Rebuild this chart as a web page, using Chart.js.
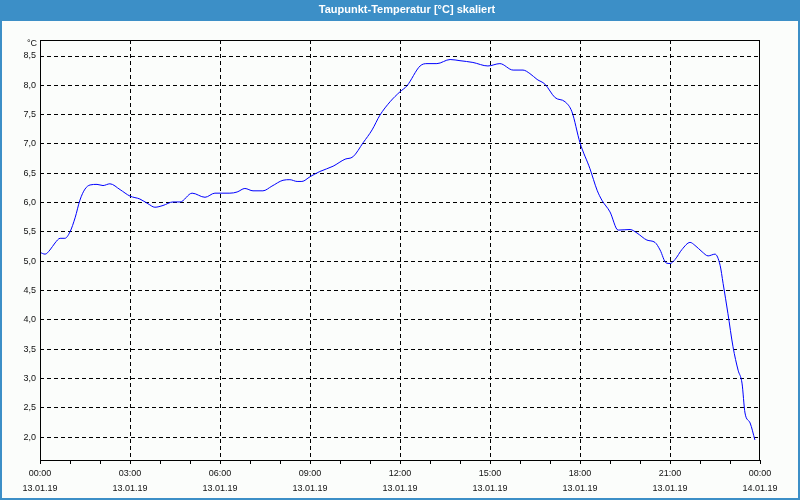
<!DOCTYPE html>
<html>
<head>
<meta charset="utf-8">
<script src="https://cdn.jsdelivr.net/npm/chart.js@4/dist/chart.umd.min.js"></script>
<style>
html,body{margin:0;padding:0;background:#fbfdfb;}
#wrap{width:800px;height:500px;position:relative;}
</style>
</head>
<body>
<div id="wrap"><canvas id="c" width="800" height="500"></canvas></div>
<script>
// ---- data ----
const chartTitle = 'Taupunkt-Temperatur [°C] skaliert';
const unitLabel = '°C';
const hours = [0,0.17,0.33,0.5,0.67,0.83,1.0,1.17,1.33,1.5,1.67,1.9,2.1,2.33,2.67,3.0,3.33,3.6,3.83,4.1,4.43,4.67,5.07,5.5,5.83,6.33,6.57,6.83,7.1,7.43,7.73,8.1,8.33,8.57,8.73,9.0,9.33,9.77,10.17,10.43,10.77,11.07,11.33,11.67,12.0,12.23,12.67,12.9,13.23,13.67,14.0,14.43,14.93,15.33,15.77,16.1,16.33,16.57,16.83,17.17,17.5,17.73,18.0,18.33,18.57,18.73,19.0,19.27,19.67,19.9,20.23,20.5,20.67,20.87,21.0,21.17,21.4,21.67,21.83,22.07,22.27,22.5,22.67,22.77,22.93,23.1,23.27,23.4,23.5,23.67,23.83];
const dewPoint = [5.15,5.12,5.19,5.31,5.39,5.39,5.50,5.74,6.04,6.23,6.30,6.31,6.29,6.32,6.22,6.11,6.06,5.98,5.92,5.95,6.01,6.01,6.16,6.09,6.16,6.16,6.18,6.24,6.20,6.20,6.28,6.38,6.39,6.36,6.36,6.44,6.53,6.62,6.74,6.78,7.02,7.24,7.49,7.72,7.89,7.99,8.33,8.37,8.37,8.44,8.42,8.39,8.33,8.37,8.26,8.26,8.20,8.10,8.02,7.79,7.72,7.55,7.02,6.58,6.21,6.04,5.84,5.53,5.54,5.48,5.36,5.32,5.19,4.97,4.96,5.03,5.20,5.32,5.27,5.16,5.09,5.12,4.93,4.62,4.11,3.54,3.14,2.92,2.41,2.24,1.95];
const xTickHours = [0,3,6,9,12,15,18,21,24];
const timeLabels = ['00:00','03:00','06:00','09:00','12:00','15:00','18:00','21:00','00:00'];
const dateLabels = ['13.01.19','13.01.19','13.01.19','13.01.19','13.01.19','13.01.19','13.01.19','13.01.19','14.01.19'];
const yTicks = [2.0,2.5,3.0,3.5,4.0,4.5,5.0,5.5,6.0,6.5,7.0,7.5,8.0,8.5];
const yMin = 1.608, yMax = 8.773;

Chart.defaults.font.family = '"Liberation Sans", Arial, sans-serif';
Chart.defaults.font.size = 9;
Chart.defaults.color = '#111';

const points = hours.map((h,i)=>({x:h, y:dewPoint[i]}));

const framePlugin = {
  id:'frame',
  beforeDraw(chart){
    const ctx = chart.ctx;
    ctx.save();
    ctx.fillStyle = '#fbfdfb';
    ctx.fillRect(0,0,800,500);
    ctx.fillStyle = '#3c8fc7';
    ctx.fillRect(0,0,800,21);
    ctx.strokeStyle = '#3c8fc7';
    ctx.lineWidth = 2;
    ctx.strokeRect(1,1,798,498);
    ctx.fillStyle = '#ffffff';
    ctx.font = 'bold 11px "Liberation Sans", Arial, sans-serif';
    ctx.textAlign = 'center';
    ctx.textBaseline = 'middle';
    ctx.fillText(chartTitle, 407, 10);
    ctx.restore();
  },
  afterDraw(chart){
    const ctx = chart.ctx, a = chart.chartArea;
    ctx.save();
    ctx.strokeStyle = '#000';
    ctx.lineWidth = 1;
    ctx.setLineDash([]);
    ctx.strokeRect(Math.round(a.left)+0.5, Math.round(a.top)+0.5, Math.round(a.right-a.left)-1, Math.round(a.bottom-a.top));
    ctx.fillStyle = '#111';
    ctx.font = '9px "Liberation Sans", Arial, sans-serif';
    ctx.textAlign = 'right';
    ctx.textBaseline = 'middle';
    ctx.fillText(unitLabel, 37, 44);
    ctx.restore();
  }
};

new Chart(document.getElementById('c'), {
  type:'line',
  data:{datasets:[{data:points, borderColor:'#0000ff', borderWidth:1, pointRadius:0, fill:false, cubicInterpolationMode:'monotone'}]},
  options:{
    responsive:false, animation:false,
    layout:{padding:{left:0, top:40, right:40, bottom:0}},
    plugins:{legend:{display:false}, tooltip:{enabled:false}, title:{display:false}},
    scales:{
      x:{
        type:'linear', min:0, max:24,
        afterBuildTicks(s){ s.ticks = []; for(let h=0;h<=24;h++) s.ticks.push({value:h}); },
        afterFit(s){ s.height = 40; },
        ticks:{
          autoSkip:false, maxRotation:0, minRotation:0, padding:2,
          font:{size:9, lineHeight:1.7}, color:'#111',
          callback(v){ const i = xTickHours.indexOf(v); return i>=0 ? [timeLabels[i], dateLabels[i]] : ''; }
        },
        grid:{
          color(ctx){ const v = ctx.tick ? ctx.tick.value : -1; return (v%3===0 && v!==0 && v!==24) ? '#000' : 'rgba(0,0,0,0)'; },
          lineWidth:1, drawTicks:true, tickLength:4, tickColor:'#000', tickBorderDash:[], tickWidth:1
        },
        border:{display:false, dash:[4,3]}
      },
      y:{
        min:yMin, max:yMax,
        afterBuildTicks(s){ s.ticks = yTicks.map(v=>({value:v})); },
        afterFit(s){ s.width = 40; },
        ticks:{padding:4, color:'#111', callback(v){ return v.toFixed(1).replace('.', ','); }},
        grid:{color:'#000', lineWidth:1, drawTicks:false},
        border:{display:false, dash:[4,3]}
      }
    }
  },
  plugins:[framePlugin]
});
</script>
</body>
</html>
